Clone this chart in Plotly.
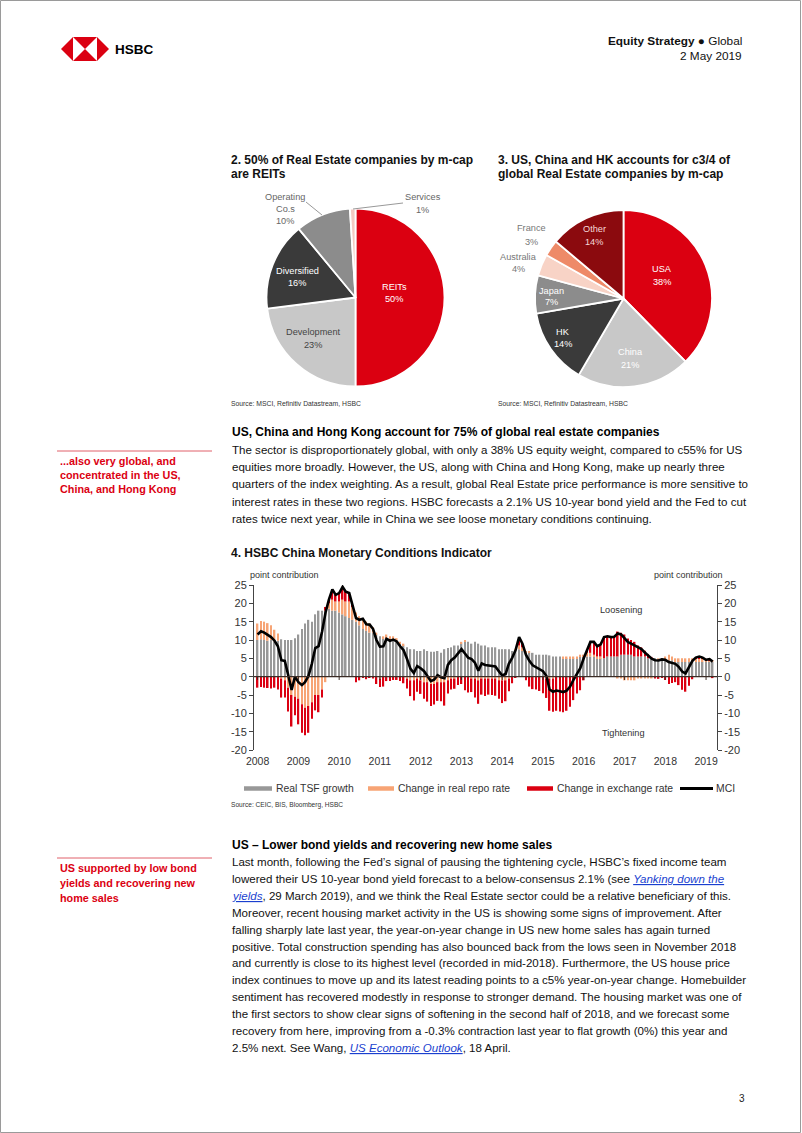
import plotly.graph_objects as go
import pandas as pd

W, H = 802, 1133
def px(x): return x / W
def py(y): return 1 - y / H

BODY = "Liberation Sans, Arial, sans-serif"
REG = "Liberation Sans, Arial, sans-serif"
RED = "#DB0011"

# ---------------- data ----------------
sectors = ["REITs", "Development", "Diversified", "Operating Co.s", "Services"]
sector_share = [50, 23, 16, 10, 1]
sector_colors = ["#DB0011", "#C8C8C8", "#3A3A3A", "#8C8C8C", "#F3C9C2"]

countries = ["USA", "China", "HK", "Japan", "Australia", "France", "Other"]
country_share = [38, 21, 14, 7, 4, 3, 14]
country_colors = ["#DB0011", "#C8C8C8", "#3A3A3A", "#8C8C8C", "#F8D3C6", "#EE8A68", "#8B0A0E"]

start_month = "2008-01-01"
real_tsf = [
    10.0, 10.2, 10.0, 9.8, 10.0, 9.6, 9.8, 10.2, 10.0, 10.0, 10.0, 10.5,
    11.5, 13.0, 14.5, 15.5, 15.0, 17.0, 18.0, 18.0, 18.0, 18.5, 18.0, 18.0,
    17.5, 17.0, 16.5, 16.0, 15.5, 15.0, 14.0, 13.0, 12.5, 12.0, 12.0, 11.5,
    11.0, 10.5, 10.5, 10.0, 10.0, 9.5, 9.0, 8.5, 8.0, 7.5, 7.5, 7.0,
    7.0, 7.5, 7.0, 6.8, 6.8, 7.0, 6.5, 7.5, 7.8, 8.0, 8.5, 8.5,
    9.0, 9.5, 9.5, 9.0, 9.5, 9.0, 8.5, 8.5, 8.0, 8.0, 8.0, 7.5,
    7.5, 7.5, 7.5, 7.0, 7.0, 7.5, 7.0, 6.5, 6.5, 6.5, 6.0, 6.0,
    6.0, 6.0, 5.8, 5.5, 5.5, 5.5, 5.0, 5.0, 5.0, 5.0, 5.0, 5.5,
    5.5, 5.5, 5.5, 5.5, 5.0, 5.0, 5.0, 5.5, 5.5, 5.5, 5.5, 6.0,
    6.0, 6.0, 6.0, 5.5, 5.5, 5.5, 5.5, 5.0, 5.0, 5.0, 4.5, 4.5,
    4.5, 4.5, 4.5, 4.0, 4.0, 4.0, 4.0, 4.0, 4.0, 4.0, 4.0, 4.0,
    4.0, 4.0, 4.0,
]
real_repo = [
    4.5, 5.0, 5.0, 4.8, 4.0, 3.2, 2.0, -0.5, -1.0, -3.0, -5.0, -5.5,
    -6.0, -7.5, -8.5, -8.0, -7.0, -5.0, -5.0, -3.5, -1.5, 1.5, 3.0, 2.5,
    3.0, 4.0, 4.0, 4.5, 3.5, 2.5, 2.5, 3.0, 2.5, 2.5, 1.5, 0.5,
    -0.5, 0.5, 1.0, 1.0, 1.0, 1.0, 0.5, 0.5, -0.5, -1.0, -1.0, -0.5,
    -1.0, -1.5, -1.5, -2.0, -2.0, -1.5, -1.5, -1.5, -1.0, -0.5, -0.5, 0.0,
    0.5, 0.5, 0.0, -0.5, -0.5, -1.0, -0.5, -0.5, -0.5, -0.5, -0.5, -1.0,
    -1.0, -1.0, -0.5, 0.0, 0.5, 1.0, 1.0, 0.5, 0.5, 0.0, 0.0, 0.0,
    0.0, -0.5, -0.5, -0.5, 0.0, 0.0, 0.5, 0.5, 0.5, 0.5, 0.5, 0.5,
    0.5, 1.0, 1.0, 0.5, 0.5, 0.5, 0.0, 0.0, 0.0, 0.0, -0.5, -0.5,
    -1.0, -1.0, -1.0, -1.0, -0.5, -0.5, -0.5, -0.5, -0.5, 0.0, 0.5, 0.5,
    1.0, 1.5, 1.0, 1.0, 1.0, 1.0, 1.0, 1.0, 1.0, 1.0, 1.0, 1.0,
    0.5, 0.5, 0.5,
]
exchange_rate = [
    -3.0, -2.8, -3.0, -3.1, -3.2, -3.0, -3.5, -5.2, -4.7, -6.5, -8.6, -5.0,
    -7.0, -7.8, -7.5, -7.3, -4.5, -4.2, -4.7, -2.2, 1.0, 1.0, 2.8, 1.8,
    2.3, 3.5, 2.7, 2.3, 0.5, -1.5, -1.0, -0.2, -0.7, -0.3, -0.5, -2.0,
    -2.3, -2.7, -1.2, -1.2, -0.9, -0.9, -1.2, -1.8, -2.7, -4.3, -5.5, -3.6,
    -3.7, -4.5, -5.3, -6.0, -5.6, -5.1, -5.2, -6.4, -3.6, -3.0, -2.8, -2.3,
    -2.0, -3.7, -4.3, -3.7, -5.2, -6.4, -4.4, -4.8, -4.4, -4.5, -4.7, -5.0,
    -6.2, -5.7, -3.5, -1.8, -0.2, 2.3, 1.0, -1.0, -2.7, -3.4, -3.5, -3.9,
    -4.5, -5.3, -8.8, -9.1, -9.3, -9.5, -9.7, -9.3, -8.2, -6.4, -4.6, -3.7,
    -1.0, 0.8, 3.0, 3.5, 2.8, 3.3, 5.8, 5.5, 5.3, 5.4, 6.8, 6.0,
    5.5, 4.4, 4.0, 4.0, 3.0, 2.5, 1.6, 1.2, 0.4, -0.5, -0.6, -0.3,
    -0.9, -2.0, -1.7, -1.5, -2.3, -3.6, -4.1, -2.5, -0.7, 0.2, 0.5, 0.2,
    0.1, 0.3, -0.4,
]
mci = [
    11.5, 12.4, 12.0, 11.5, 10.8, 9.8, 8.3, 4.5, 4.3, 0.5, -3.6, 0.0,
    -1.5, -2.3, -1.5, 0.2, 3.5, 7.8, 8.3, 12.3, 17.5, 21.0, 23.8, 22.3,
    22.8, 24.5, 23.2, 22.8, 19.5, 16.0, 15.5, 15.8, 14.3, 14.2, 13.0, 10.0,
    8.2, 8.3, 10.3, 9.8, 10.1, 9.6, 8.3, 7.2, 4.8, 2.2, 1.0, 2.9,
    2.3, 1.5, 0.2, -1.2, -0.8, 0.4, -0.2, -0.4, 3.2, 4.5, 5.2, 6.2,
    7.5, 6.3, 5.2, 4.8, 3.8, 1.6, 3.6, 3.2, 3.1, 3.0, 2.8, 1.5,
    0.3, 0.8, 3.5, 5.2, 7.3, 10.8, 9.0, 6.0, 4.3, 3.1, 2.5, 2.1,
    1.5, 0.2, -3.5, -4.1, -3.8, -4.0, -4.2, -3.8, -2.7, -0.9, 0.9, 2.3,
    5.0, 7.3, 9.5, 9.5, 8.3, 8.8, 10.8, 11.0, 10.8, 10.9, 11.8, 11.5,
    10.5, 9.4, 9.0, 8.5, 8.0, 7.5, 6.6, 5.7, 4.9, 4.5, 4.4, 4.7,
    4.6, 4.0, 3.8, 3.5, 2.7, 1.4, 0.9, 2.5, 4.3, 5.2, 5.5, 5.2,
    4.6, 4.8, 4.1,
]
year_labels = [str(y) for y in range(2008, 2020)]
y_ticks = [25, 20, 15, 10, 5, 0, -5, -10, -15, -20]
series_names = ["Real TSF growth", "Change in real repo rate", "Change in exchange rate", "MCI"]

months = pd.date_range(start_month, periods=len(mci), freq="MS")

GRAY, ORANGE, LINE = "#989898", "#F7A475", "#000000"

fig = go.Figure()

# ---------------- pies ----------------
fig.add_trace(go.Pie(values=sector_share, labels=sectors, sort=False, direction="clockwise",
                     rotation=0, textinfo="none", hoverinfo="label+percent", showlegend=False,
                     automargin=False,
                     marker=dict(colors=sector_colors, line=dict(color="white", width=1.8)),
                     domain=dict(x=[px(266.5), px(444.5)], y=[py(386.5), py(208.5)])))
fig.add_trace(go.Pie(values=country_share, labels=countries, sort=False, direction="clockwise",
                     rotation=0, textinfo="none", hoverinfo="label+percent", showlegend=False,
                     automargin=False,
                     marker=dict(colors=country_colors, line=dict(color="white", width=1.8)),
                     domain=dict(x=[px(535), px(712)], y=[py(387), py(210)])))

# ---------------- bar chart ----------------
fig.add_trace(go.Bar(x=months, y=real_tsf, name=series_names[0], marker=dict(color=GRAY, line=dict(width=0)),
                     showlegend=False))
fig.add_trace(go.Bar(x=months, y=real_repo, name=series_names[1], marker=dict(color=ORANGE, line=dict(width=0)),
                     showlegend=False))
fig.add_trace(go.Bar(x=months, y=exchange_rate, name=series_names[2], marker=dict(color=RED, line=dict(width=0)),
                     showlegend=False))
fig.add_trace(go.Scatter(x=months, y=mci, name=series_names[3], mode="lines", yaxis="y2",
                         line=dict(color=LINE, width=2.6), showlegend=False))

axis_common = dict(range=[-20, 25], tickvals=y_ticks, ticktext=[str(v) for v in y_ticks],
                   showline=True, linecolor="#444", linewidth=1, automargin=False,
                   ticks="outside", ticklen=4, tickcolor="#444", showgrid=False, zeroline=False,
                   tickfont=dict(family=REG, size=11, color="#333"), fixedrange=True)

fig.update_layout(
    template="none",
    width=W, height=H, margin=dict(l=0, r=0, t=0, b=0, pad=0, autoexpand=False),
    paper_bgcolor="white", plot_bgcolor="rgba(0,0,0,0)",
    barmode="relative", bargap=0.5,
    xaxis=dict(type="date", domain=[px(254), px(717)], range=["2007-11-30", "2019-04-09"],
               tickvals=[f"{y}-01-01" for y in year_labels], ticktext=year_labels,
               showline=False, showgrid=False, zeroline=False, ticks="", automargin=False,
               tickfont=dict(family=REG, size=10.5, color="#333"), ticklabelstandoff=3, anchor="y",
               fixedrange=True),
    yaxis=dict(domain=[py(750), py(585)], anchor="x", **axis_common),
    yaxis2=dict(overlaying="y", side="right", anchor="x", **axis_common),
)

shapes = []
# page border
shapes.append(dict(type="rect", xref="paper", yref="paper", x0=px(0.5), x1=px(800.5), y0=py(1132.5), y1=py(0.5),
                   line=dict(color="#9a9a9a", width=1)))

# HSBC logo
def path(pts):
    return "M " + " L ".join(f"{px(a):.5f},{py(b):.5f}" for a, b in pts) + " Z"
lx0, lx1, lx2, lx3, ly0, ly1, ly2 = 61, 73, 97, 109, 37, 49, 61
logo = [
    [(lx0, ly1), (lx1, ly0), (lx1, ly2)],
    [(lx3, ly1), (lx2, ly0), (lx2, ly2)],
    [(lx1, ly0), (lx2, ly0), ((lx1 + lx2) / 2, ly1)],
    [(lx1, ly2), (lx2, ly2), ((lx1 + lx2) / 2, ly1)],
]
for pts in logo:
    shapes.append(dict(type="path", xref="paper", yref="paper", path=path(pts), fillcolor=RED,
                       line=dict(width=0)))

# sidebar rules
for yy in (451, 858):
    shapes.append(dict(type="line", xref="paper", yref="paper", x0=px(57), x1=px(212), y0=py(yy), y1=py(yy),
                       line=dict(color="#E0606A", width=1)))

# pie leader lines
shapes.append(dict(type="line", xref="paper", yref="paper", x0=px(306), y0=py(202), x1=px(322), y1=py(215),
                   line=dict(color="#999", width=1)))
shapes.append(dict(type="line", xref="paper", yref="paper", x0=px(353), y0=py(209), x1=px(403), y1=py(203),
                   line=dict(color="#999", width=1)))

# zero line and year ticks
shapes.append(dict(type="line", xref="paper", yref="y", x0=px(254), x1=px(717), y0=0, y1=0,
                   line=dict(color="#3b2c26", width=1.2)))
for yl in year_labels:
    shapes.append(dict(type="line", xref="x", yref="y", x0=f"{yl}-01-01", x1=f"{yl}-01-01", y0=0, y1=-0.9,
                       line=dict(color="#3b2c26", width=1)))

# legend swatches
legend_items = [(244, 272, GRAY, 4.5), (368, 394, ORANGE, 4.5), (527, 553, RED, 4.5), (680, 713, LINE, 3)]
for x0, x1, col, wdt in legend_items:
    shapes.append(dict(type="line", xref="paper", yref="paper", x0=px(x0), x1=px(x1), y0=py(788.5), y1=py(788.5),
                       line=dict(color=col, width=wdt)))

fig.update_layout(shapes=shapes)

ann = []
def T(x, y, text, size=11.55, color="#111", anchor="left", family=BODY):
    ann.append(dict(x=px(x), y=py(y), xref="paper", yref="paper", text=text, showarrow=False,
                    xanchor=anchor, yanchor="middle", align=anchor if anchor != "center" else "center",
                    font=dict(family=family, size=size, color=color)))

# header
T(113, 49, "<b>HSBC</b>", size=13.5, color="#000", family=REG)
T(744, 41, "<b>Equity Strategy</b> \u25cf Global", size=11.8, anchor="right")
T(744, 56, "2 May 2019", size=11.8, anchor="right")

# figure 2
T(229, 160, "<b>2. 50% of Real Estate companies by m-cap</b>", size=12)
T(229, 174, "<b>are REITs</b>", size=12)
T(394, 287, "REITs", 9.2, "white", "center")
T(394, 299, "50%", 9.2, "white", "center")
T(313, 332, "Development", 9.2, "#444", "center")
T(313, 345, "23%", 9.2, "#444", "center")
T(297, 271, "Diversified", 9.2, "white", "center")
T(297, 283, "16%", 9.2, "white", "center")
T(285, 197, "Operating", 9.2, "#666", "center")
T(285, 209, "Co.s", 9.2, "#666", "center")
T(285, 221, "10%", 9.2, "#666", "center")
T(423, 197, "Services", 9.2, "#666", "center")
T(423, 210, "1%", 9.2, "#666", "center")
T(229, 403, "Source: MSCI, Refinitiv Datastream, HSBC", size=6.8, color="#333")

# figure 3
T(496, 160, "<b>3. US, China and HK accounts for c3/4 of</b>", size=12)
T(496, 174, "<b>global Real Estate companies by m-cap</b>", size=12)
T(662, 269, "USA", 9.2, "white", "center")
T(662, 282, "38%", 9.2, "white", "center")
T(630, 352, "China", 9.2, "white", "center")
T(630, 365, "21%", 9.2, "white", "center")
T(563, 332, "HK", 9.2, "white", "center")
T(563, 344, "14%", 9.2, "white", "center")
T(551, 291, "Japan", 9.2, "white", "center")
T(551, 302, "7%", 9.2, "white", "center")
T(518, 257, "Australia", 9.2, "#777", "center")
T(518, 269, "4%", 9.2, "#777", "center")
T(531, 228, "France", 9.2, "#777", "center")
T(531, 242, "3%", 9.2, "#777", "center")
T(594, 229, "Other", 9.2, "#F4D8D8", "center")
T(594, 242, "14%", 9.2, "#F4D8D8", "center")
T(496, 403, "Source: MSCI, Refinitiv Datastream, HSBC", size=6.8, color="#333")

# section 1
T(58, 461, "<b>...also very global, and</b>", 10.8, RED)
T(58, 475, "<b>concentrated in the US,</b>", 10.8, RED)
T(58, 489, "<b>China, and Hong Kong</b>", 10.8, RED)
T(230, 432, "<b>US, China and Hong Kong account for 75% of global real estate companies</b>", 12, "#000")
sec1 = [
    "The sector is disproportionately global, with only a 38% US equity weight, compared to c55% for US",
    "equities more broadly. However, the US, along with China and Hong Kong, make up nearly three",
    "quarters of the index weighting. As a result, global Real Estate price performance is more sensitive to",
    "interest rates in these two regions. HSBC forecasts a 2.1% US 10-year bond yield and the Fed to cut",
    "rates twice next year, while in China we see loose monetary conditions continuing.",
]
for k, line in enumerate(sec1):
    T(230, 450 + 17.2 * k, line)

# figure 4
T(229, 553, "<b>4. HSBC China Monetary Conditions Indicator</b>", 12)
T(248, 575, "point contribution", 9, "#333", family=REG)
T(725, 575, "point contribution", 9, "#333", "right", family=REG)
T(621, 610, "Loosening", 9.2, "#333", "center", family=REG)
T(623, 733, "Tightening", 9.2, "#333", "center", family=REG)
T(274, 788.5, series_names[0], 10.4, "#333", family=REG)
T(396, 788.5, series_names[1], 10.4, "#333", family=REG)
T(555, 788.5, series_names[2], 10.4, "#333", family=REG)
T(714, 788.5, series_names[3], 10.4, "#333", family=REG)
T(229, 805, "Source: CEIC, BIS, Bloomberg, HSBC", size=6.6, color="#333")

# section 2
T(58, 868, "<b>US supported by low bond</b>", 10.8, RED)
T(58, 883, "<b>yields and recovering new</b>", 10.8, RED)
T(58, 898, "<b>home sales</b>", 10.8, RED)
T(230, 845, "<b>US \u2013 Lower bond yields and recovering new home sales</b>", 12, "#000")
LINK = "<span style='color:#1a3fcf'><i><u>{}</u></i></span>"
sec2 = [
    "Last month, following the Fed\u2019s signal of pausing the tightening cycle, HSBC\u2019s fixed income team",
    "lowered their US 10-year bond yield forecast to a below-consensus 2.1% (see " + LINK.format("Yanking down the"),
    LINK.format("yields") + ", 29 March 2019), and we think the Real Estate sector could be a relative beneficiary of this.",
    "Moreover, recent housing market activity in the US is showing some signs of improvement. After",
    "falling sharply late last year, the year-on-year change in US new home sales has again turned",
    "positive. Total construction spending has also bounced back from the lows seen in November 2018",
    "and currently is close to its highest level (recorded in mid-2018). Furthermore, the US house price",
    "index continues to move up and its latest reading points to a c5% year-on-year change. Homebuilder",
    "sentiment has recovered modestly in response to stronger demand. The housing market was one of",
    "the first sectors to show clear signs of softening in the second half of 2018, and we forecast some",
    "recovery from here, improving from a -0.3% contraction last year to flat growth (0%) this year and",
    "2.5% next. See Wang, " + LINK.format("US Economic Outlook") + ", 18 April.",
]
for k, line in enumerate(sec2):
    T(230, 862 + 16.9 * k, line)

T(742, 1098, "3", 10, "#222", "center")

fig.update_layout(annotations=ann)
POST = (
    "var s=document.createElement('style');"
    "s.innerHTML='html,body{margin:0!important;padding:0!important;overflow:hidden!important;}';"
    "document.head.appendChild(s);"
    "var d=document.getElementById('{plot_id}');"
    "if(d){d.style.position='fixed';d.style.left='0px';d.style.top='0px';}"
)
fig.write_html("out.html", config={"responsive": False, "displayModeBar": False}, post_script=POST)
